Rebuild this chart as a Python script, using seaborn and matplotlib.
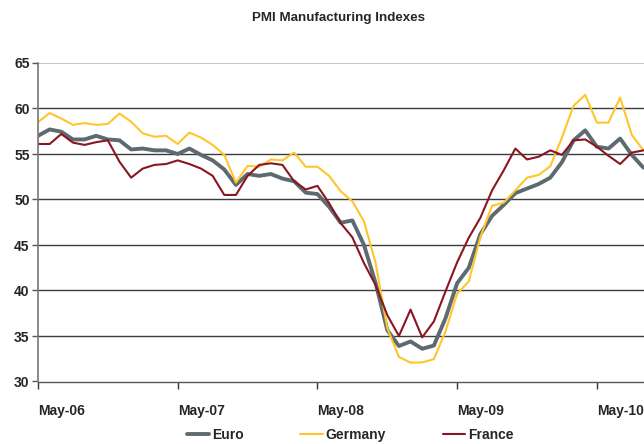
import numpy as np
import pandas as pd
import matplotlib
matplotlib.use("Agg")
import matplotlib.pyplot as plt
import seaborn as sns

months = pd.date_range("2006-05-01", periods=53, freq="MS")
tick_labels = ["May-06", "May-07", "May-08", "May-09", "May-10"]

euro = [57.0, 57.7, 57.45, 56.6, 56.6, 57.0, 56.6, 56.5, 55.5, 55.6, 55.4, 55.4,
        55.0, 55.6, 54.9, 54.3, 53.3, 51.6, 52.8, 52.6, 52.8, 52.3, 52.0, 50.75,
        50.6, 49.2, 47.45, 47.7, 45.0, 40.8, 35.65, 33.9, 34.4, 33.6, 33.95, 36.95,
        40.8, 42.5, 46.2, 48.2, 49.4, 50.7, 51.2, 51.7, 52.4, 54.1, 56.5, 57.6,
        55.8, 55.6, 56.7, 54.9, 53.5]
germany = [58.5, 59.5, 58.9, 58.2, 58.4, 58.2, 58.3, 59.45, 58.55, 57.27, 56.9, 57.0,
           56.1, 57.35, 56.8, 56.0, 54.9, 51.85, 53.7, 53.6, 54.4, 54.3, 55.15, 53.6,
           53.6, 52.6, 50.9, 49.8, 47.6, 43.0, 35.85, 32.7, 32.07, 32.1, 32.45, 35.5,
           39.65, 41.0, 45.9, 49.3, 49.65, 51.0, 52.4, 52.7, 53.65, 56.8, 60.3, 61.5,
           58.45, 58.45, 61.2, 57.1, 55.4]
france = [56.1, 56.1, 57.2, 56.25, 56.0, 56.3, 56.5, 54.15, 52.4, 53.4, 53.8, 53.9,
          54.3, 53.9, 53.4, 52.6, 50.5, 50.5, 52.6, 53.8, 53.98, 53.8, 52.0, 51.1,
          51.5, 49.6, 47.4, 45.85, 43.0, 40.6, 37.3, 35.0, 37.9, 34.85, 36.6, 39.9,
          43.1, 45.8, 48.0, 51.0, 53.2, 55.6, 54.4, 54.7, 55.4, 54.9, 56.5, 56.6,
          55.8, 54.8, 53.9, 55.15, 55.4]

sns.set_theme(style="white")
plt.rcParams["font.family"] = ["Liberation Sans", "DejaVu Sans"]

idx = np.arange(len(months))
df = pd.DataFrame({"idx": idx, "Euro": euro, "Germany": germany, "France": france})

fig = plt.figure(figsize=(6.44, 4.44), dpi=100)
ax = fig.add_axes([38 / 644, (444 - 381.5) / 444, 1 - 38 / 644, (381.5 - 63) / 444])

for yv in [35, 40, 45, 50, 55, 60]:
    ax.axhline(yv, color="#3c3c3c", lw=1.0, zorder=0)
ax.axhline(65, color="#c4c4c4", lw=1.5, zorder=0)

sns.lineplot(data=df, x="idx", y="Euro", ax=ax, color="#5d6a70", lw=2.8, label="Euro")
sns.lineplot(data=df, x="idx", y="Germany", ax=ax, color="#ffc52a", lw=1.5, label="Germany")
sns.lineplot(data=df, x="idx", y="France", ax=ax, color="#8b1520", lw=1.5, label="France")

ax.set_xlim(0, 52.05)
ax.set_ylim(30, 65)
ax.set_xlabel("")
ax.set_ylabel("")

ax.set_yticks(range(30, 66, 5))
ax.set_yticklabels([str(v) for v in range(30, 66, 5)], fontsize=10, fontweight="bold")
ax.tick_params(axis="y", length=4, width=1, color="#555555", pad=2, left=True)

ticks = [0, 12, 24, 36, 48]
ax.set_xticks(ticks)
ax.set_xticklabels(tick_labels, fontsize=10, fontweight="bold", ha="left")
ax.tick_params(axis="x", length=5, width=1, color="#333333", pad=11, bottom=True, direction="out")

for s in ["top", "right"]:
    ax.spines[s].set_visible(False)
ax.spines["left"].set_color("#777777")
ax.spines["bottom"].set_color("#555555")
ax.spines["left"].set_linewidth(1.2)
ax.spines["bottom"].set_linewidth(1.0)

ax.get_legend().remove()
handles, labels = ax.get_legend_handles_labels()
fig.legend(handles, labels, loc="center", bbox_to_anchor=(350 / 644, 1 - 435 / 444),
           ncol=3, frameon=False, handlelength=1.6, handletextpad=0.2,
           columnspacing=4.1, prop={"weight": "bold", "size": 10})

fig.text(339 / 644, 1 - 18 / 444, "PMI Manufacturing Indexes", ha="center", va="center",
         fontsize=9.6, fontweight="bold")

fig.savefig("out.png", dpi=100)
